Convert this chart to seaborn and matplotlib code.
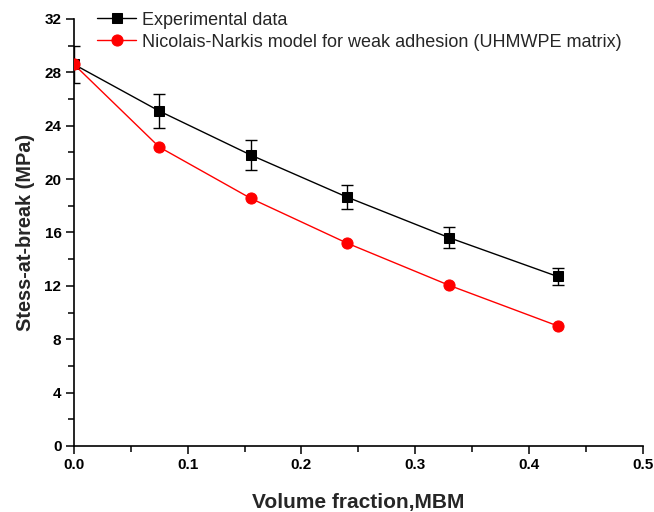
import matplotlib
matplotlib.use("Agg")
import matplotlib.pyplot as plt
import seaborn as sns
import pandas as pd
from matplotlib.ticker import MultipleLocator

volume_fraction = [0.0, 0.075, 0.1555, 0.24, 0.33, 0.425]
exp_stress = [28.6, 25.1, 21.8, 18.65, 15.6, 12.7]
exp_err = [1.4, 1.3, 1.1, 0.92, 0.78, 0.63]
model_stress = [28.6, 22.4, 18.55, 15.2, 12.03, 9.0]

exp_label = "Experimental data"
model_label = "Nicolais-Narkis model for weak adhesion (UHMWPE matrix)"

sns.set_theme(style="ticks")
plt.rcParams["font.family"] = ["Liberation Sans", "DejaVu Sans"]

df_exp = pd.DataFrame({"x": volume_fraction, "y": exp_stress})
df_mod = pd.DataFrame({"x": volume_fraction, "y": model_stress})

fig = plt.figure(figsize=(6.54, 5.12), dpi=100)
ax = fig.add_axes([0.113, 0.129, 0.870, 0.834])

ax.errorbar(volume_fraction, exp_stress, yerr=exp_err, fmt="none",
            ecolor="black", elinewidth=1, capsize=4, capthick=1, zorder=2)
sns.lineplot(data=df_exp, x="x", y="y", ax=ax, color="black", marker="s",
             markersize=7, markeredgecolor="black", linewidth=1,
             label=exp_label, zorder=3)
sns.lineplot(data=df_mod, x="x", y="y", ax=ax, color="#ff0000", marker="o",
             markersize=8, markeredgecolor="#ff0000", linewidth=1,
             label=model_label, zorder=4)

ax.set_xlim(0, 0.5)
ax.set_ylim(0, 32)
ax.xaxis.set_major_locator(MultipleLocator(0.1))
ax.xaxis.set_minor_locator(MultipleLocator(0.05))
ax.yaxis.set_major_locator(MultipleLocator(4))
ax.yaxis.set_minor_locator(MultipleLocator(2))
ax.set_xticks([0, 0.1, 0.2, 0.3, 0.4, 0.5])
ax.set_xticklabels(["0.0", "0.1", "0.2", "0.3", "0.4", "0.5"])

sns.despine(ax=ax)
for s in ["left", "bottom"]:
    ax.spines[s].set_linewidth(1.2)
    ax.spines[s].set_color("black")
ax.tick_params(which="major", direction="out", length=6, width=1.1, colors="black",
               labelsize=11, pad=3)
ax.tick_params(which="minor", direction="out", length=4, width=1.1, colors="black")
for lab in ax.get_xticklabels() + ax.get_yticklabels():
    lab.set_fontweight("bold")

ax.set_xlabel("Volume fraction,MBM", fontsize=15, fontweight="bold", labelpad=15)
ax.set_ylabel("Stess-at-break (MPa)", fontsize=14.3, fontweight="bold", labelpad=7)

leg = ax.legend(loc="upper left", bbox_to_anchor=(0.04, 1.017), frameon=False,
                fontsize=13, handlelength=2.2, handletextpad=0.33,
                labelspacing=0.28, borderaxespad=0, borderpad=0)

fig.savefig("out.png", dpi=100)
